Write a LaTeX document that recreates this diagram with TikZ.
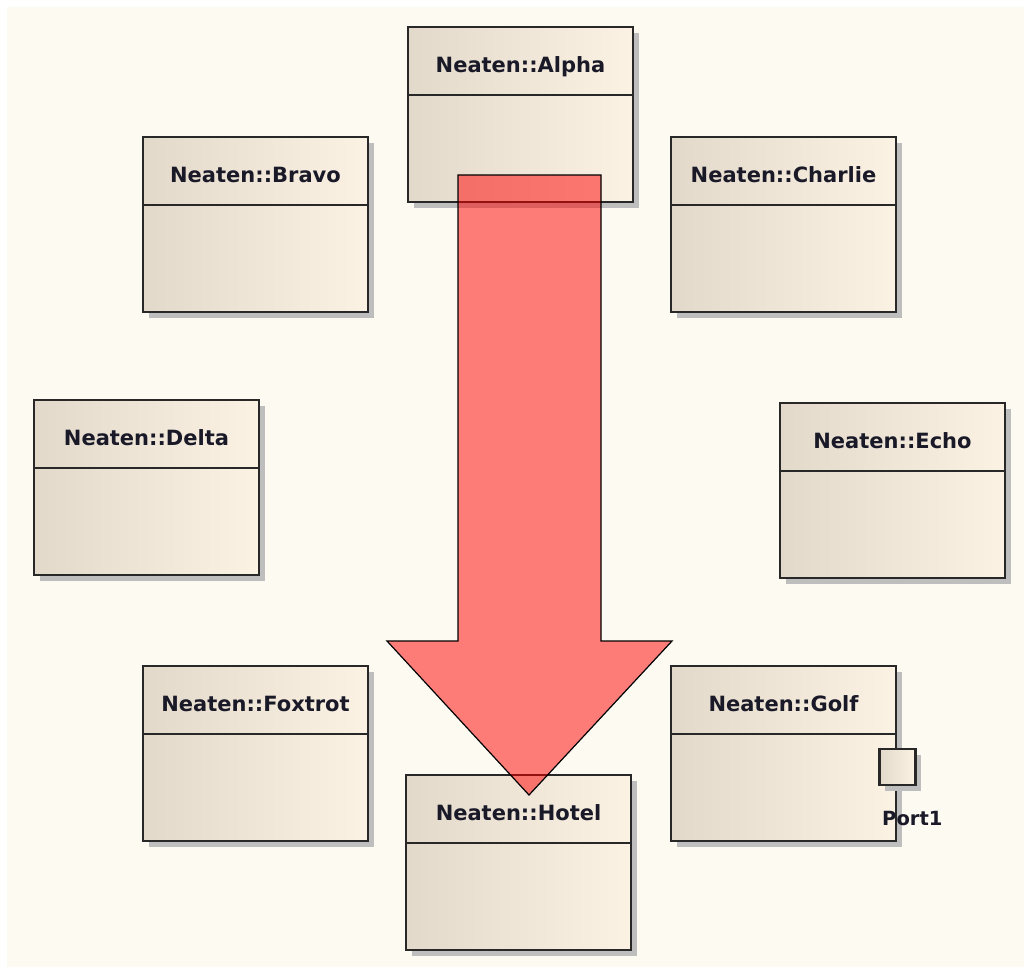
\documentclass[tikz,border=0pt]{standalone}
\usepackage{fontspec}
\setsansfont{DejaVu Sans}
\usetikzlibrary{shadows}

\definecolor{canvas}{RGB}{253,250,242}
\definecolor{classleft}{RGB}{226,217,203}
\definecolor{classright}{RGB}{251,242,228}
\definecolor{classedge}{RGB}{40,40,40}
\definecolor{shadowgray}{RGB}{190,190,190}
\definecolor{titleink}{RGB}{25,25,40}

\begin{document}
\begin{tikzpicture}[x=1pt,y=-1pt,
  classbox/.style={rectangle,draw=classedge,line width=2.5pt,inner sep=0pt,
    minimum width=225pt,minimum height=175pt,left color=classleft,right color=classright,
    drop shadow={shadow xshift=6pt,shadow yshift=-6pt,fill=shadowgray,opacity=1}},
  classline/.style={draw=classedge,line width=2.5pt},
  classtitle/.style={font=\sffamily\bfseries\fontsize{21}{25}\selectfont,text=titleink,inner sep=0pt},
  portbox/.style={rectangle,draw=classedge,line width=2.5pt,inner sep=0pt,minimum size=36pt,
    left color=classleft,right color=classright,
    drop shadow={shadow xshift=6pt,shadow yshift=-6pt,fill=shadowgray,opacity=1}},
  bigarrow/.style={fill=red,fill opacity=0.5,draw=black,line width=1.2pt,line join=miter}]
\useasboundingbox (0,0) rectangle (1024,967);
\fill[white] (0,0) rectangle (1024,967);
\fill[canvas] (7,7) rectangle (1024,967);
% the eight classes
\foreach \nm/\x/\y in {Alpha/408/27,Bravo/143/137,Charlie/671/137,Delta/34/400,
    Echo/780/403,Foxtrot/143/666,Golf/671/666,Hotel/406/775}{
  \node[classbox] (\nm) at (\x+112.5,\y+87.5) {};
  \draw[classline] ([yshift=-69pt]\nm.north west) -- ([yshift=-69pt]\nm.north east);
  \node[classtitle,anchor=base] (\nm-title) at ([yshift=-47pt]\nm.north) {Neaten::\nm};
}
% port on Golf
\node[portbox] (port1) at ([yshift=-102pt]Golf.north east) {};
\node[classtitle,font=\sffamily\bfseries\fontsize{19.5}{23}\selectfont,anchor=base west] (port1-label) at (882,825) {Port1};
% big arrow from Alpha down to Hotel
\coordinate (tip) at (529,795);
\draw[bigarrow] (458,175) -- (601,175) -- (601,641) -- (672,641) -- (tip)
  -- (387,641) -- (458,641) -- cycle;
\end{tikzpicture}
\end{document}
